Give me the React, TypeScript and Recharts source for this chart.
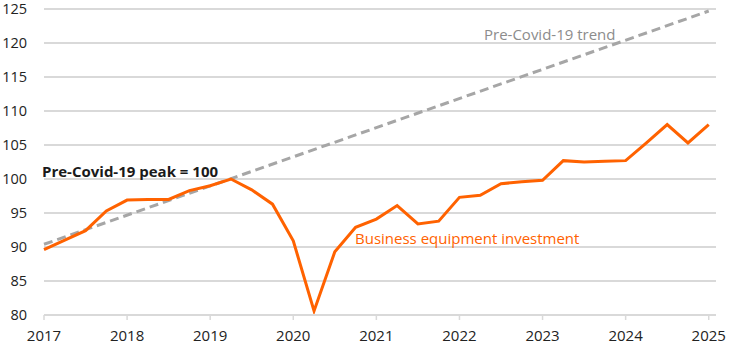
import { LineChart, Line, XAxis, YAxis, CartesianGrid, Customized } from "recharts";

const quarters = [
	"2017Q1", "2017Q2", "2017Q3", "2017Q4",
	"2018Q1", "2018Q2", "2018Q3", "2018Q4",
	"2019Q1", "2019Q2", "2019Q3", "2019Q4",
	"2020Q1", "2020Q2", "2020Q3", "2020Q4",
	"2021Q1", "2021Q2", "2021Q3", "2021Q4",
	"2022Q1", "2022Q2", "2022Q3", "2022Q4",
	"2023Q1", "2023Q2", "2023Q3", "2023Q4",
	"2024Q1", "2024Q2", "2024Q3", "2024Q4",
	"2025Q1",
];

// business equipment investment, index (pre-Covid peak = 100)
const investment = [
	89.6, 91.0, 92.4, 95.3, 96.9, 97.0, 97.0, 98.3,
	99.0, 100.0, 98.4, 96.3, 90.9, 80.6, 89.3, 92.9,
	94.1, 96.1, 93.4, 93.8, 97.3, 97.6, 99.3, 99.6,
	99.8, 102.7, 102.5, 102.6, 102.7, 105.3, 108.0, 105.3,
	108.0,
];

// pre-Covid trend: only its two ends
const trendStart = 90.4;
const trendEnd = 124.7;

const yearLabels = ["2017", "2018", "2019", "2020", "2021", "2022", "2023", "2024", "2025"];
const yTicks = [80, 85, 90, 95, 100, 105, 110, 115, 120, 125];

const data = quarters.map((q, i) => ({
	i,
	q,
	value: investment[i],
	trend: i === 0 ? trendStart : i === quarters.length - 1 ? trendEnd : null,
}));

const xTicks = yearLabels.map((_, k) => k * 4);
const font = "'Open Sans', sans-serif";

const Labels = () => (
	<g style={{ fontFamily: font }}>
		<text x={42} y={177} fontSize={15} fontWeight={700} fill="#1a1a1a">
			Pre-Covid-19 peak = 100
		</text>
		<text x={484} y={40} fontSize={15} fill="#8c8c8c">
			Pre-Covid-19 trend
		</text>
		<text x={355} y={244} fontSize={15} fill="#ff6200">
			Business equipment investment
		</text>
	</g>
);

export default function App() {
	return (
		<div style={{ position: "fixed", left: 0, top: 0, background: "#fff" }}>
			<LineChart
				width={750}
				height={354}
				data={data}
				margin={{ top: 9, right: 34, bottom: 9, left: 0 }}
			>
				<CartesianGrid vertical={false} stroke="#d9d9d9" strokeWidth={2} />
				<XAxis
					dataKey="i"
					type="number"
					domain={[0, 32.35]}
					ticks={xTicks}
					tickFormatter={(v) => yearLabels[v / 4]}
					interval={0}
					height={30}
					axisLine={{ stroke: "#d9d9d9", strokeWidth: 2 }}
					tickLine={{ stroke: "#d9d9d9", strokeWidth: 1.5 }}
					tickSize={5}
					tickMargin={10}
					tick={{ fill: "#222", fontSize: 15, fontFamily: font }}
				/>
				<YAxis
					domain={[80, 125]}
					ticks={yTicks}
					interval={0}
					width={44}
					axisLine={false}
					tickLine={false}
					tickMargin={11}
					tick={{ fill: "#222", fontSize: 14.5, fontFamily: font }}
				/>
				<Line
					dataKey="trend"
					connectNulls
					stroke="#a6a6a6"
					strokeWidth={3}
					strokeDasharray="9 5"
					dot={false}
					isAnimationActive={false}
				/>
				<Line
					dataKey="value"
					stroke="#ff6200"
					strokeWidth={3}
					dot={false}
					strokeLinejoin="miter"
					isAnimationActive={false}
				/>
				<Customized component={Labels} />
			</LineChart>
		</div>
	);
}
